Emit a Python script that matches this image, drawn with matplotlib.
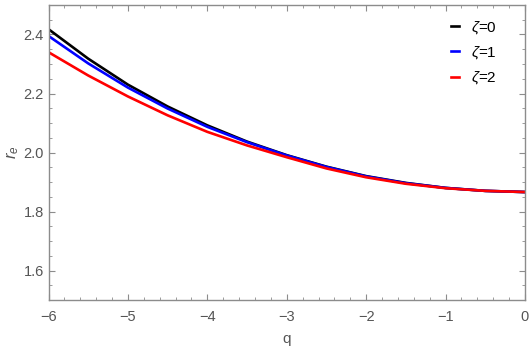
import matplotlib.pyplot as plt
from matplotlib.ticker import MultipleLocator

# --- data ---
q = [-6, -5.5, -5, -4.5, -4, -3.5, -3, -2.5, -2, -1.5, -1, -0.5, 0]
r_zeta0 = [2.418, 2.318, 2.230, 2.156, 2.092, 2.037, 1.991, 1.952, 1.920, 1.897, 1.880, 1.870, 1.866]
r_zeta1 = [2.395, 2.302, 2.220, 2.149, 2.087, 2.035, 1.990, 1.951, 1.919, 1.896, 1.880, 1.870, 1.866]
r_zeta2 = [2.340, 2.261, 2.190, 2.126, 2.070, 2.024, 1.984, 1.946, 1.916, 1.894, 1.879, 1.870, 1.866]
labels = [r'$\zeta$=0', r'$\zeta$=1', r'$\zeta$=2']
colors = ['black', 'blue', 'red']

plt.rcParams['font.family'] = ['Liberation Sans', 'DejaVu Sans']
plt.rcParams['mathtext.fontset'] = 'custom'
plt.rcParams['mathtext.it'] = 'Liberation Sans:italic'
plt.rcParams['axes.unicode_minus'] = True

fig = plt.figure(figsize=(5.32, 3.47), dpi=100)
ax = fig.add_axes([0.0912, 0.1354, 0.8956, 0.8502])

for ys, lab, c in zip([r_zeta0, r_zeta1, r_zeta2], labels, colors):
    ax.plot(q, ys, color=c, lw=1.9, label=lab, solid_joinstyle='round')

ax.set_xlim(-6, 0)
ax.set_ylim(1.5, 2.5)
ax.xaxis.set_major_locator(MultipleLocator(1))
ax.xaxis.set_minor_locator(MultipleLocator(0.2))
ax.yaxis.set_major_locator(MultipleLocator(0.2))
ax.yaxis.set_minor_locator(MultipleLocator(0.05))
ax.yaxis.set_major_formatter(plt.FuncFormatter(lambda v, p: f"{v:.1f}" if 1.55 <= v <= 2.45 else ""))

frame_col = '#8c8c8c'
for s in ax.spines.values():
    s.set_color(frame_col)
    s.set_linewidth(1.0)
ax.tick_params(which='both', direction='in', top=True, right=True, color=frame_col,
               labelcolor='#555555', labelsize=10.5)
ax.tick_params(which='major', length=4, width=0.8)
ax.tick_params(which='minor', length=2.2, width=0.6)
ax.tick_params(axis='x', pad=7)

ax.set_xlabel('q', color='#555555', fontsize=11, labelpad=6)
ax.set_ylabel(r'$r_e$', color='#555555', fontsize=12, labelpad=2)

# legend in the top right corner, no frame
ax.legend(loc='upper right', frameon=False, fontsize=11, handlelength=0.5,
          handletextpad=0.8, labelspacing=0.55, bbox_to_anchor=(0.97, 1.0))

plt.savefig('out.png', dpi=100)
